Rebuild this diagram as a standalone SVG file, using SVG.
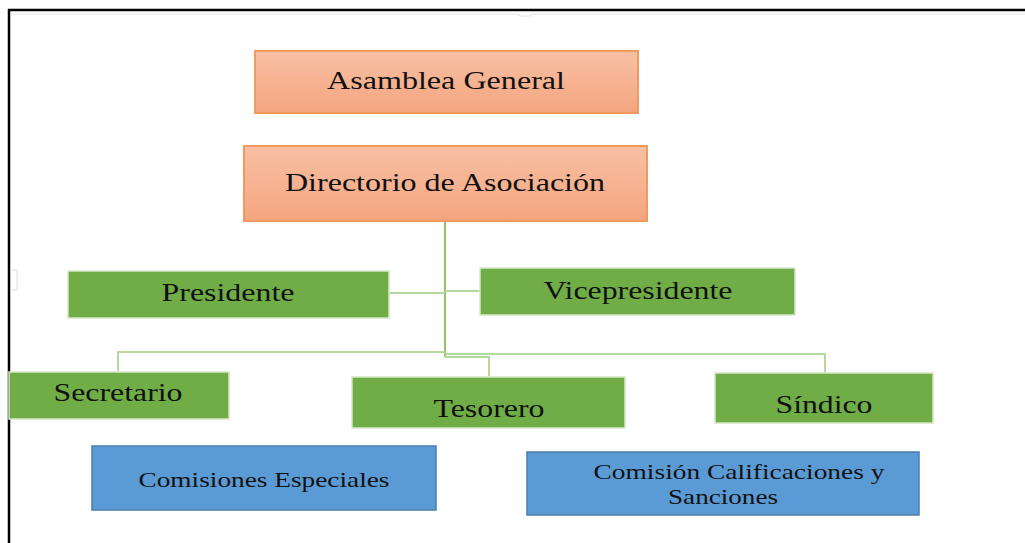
<svg xmlns="http://www.w3.org/2000/svg" width="1025" height="543" viewBox="0 0 1025 543">
<defs>
<linearGradient id="og" x1="0" y1="0" x2="0" y2="1">
<stop offset="0" stop-color="#f8c0a4"/>
<stop offset="1" stop-color="#f4a57f"/>
</linearGradient>
<style>
.org{fill:url(#og);stroke:#f19a60;stroke-width:2}
.grn{fill:#70ad47;stroke:#d6e8c9;stroke-width:1.5}
.blu{fill:#5b9bd5;stroke:#4a7fae;stroke-width:1.5}
.t{font-family:"Liberation Serif","Times New Roman",serif;fill:#111;text-anchor:middle}
.big{font-size:26px}
.sm{font-size:21px}
.ln{fill:none;stroke:#8fc46c;stroke-width:2}
.ln2{fill:none;stroke:#b5d99c;stroke-width:2}
</style>
</defs>
<rect width="1025" height="543" fill="#ffffff"/>
<g id="frame">
<path d="M8 10 H1025" stroke="#000" stroke-width="2.5" fill="none"/>
<path d="M9 9 V543" stroke="#000" stroke-width="2.5" fill="none"/>
<path d="M11 18 V14 H519 V16 H531 V14 H1025" stroke="#e2e2e2" stroke-width="1" fill="none"/>
<path d="M10 270 H17 V290 H10" stroke="#dddddd" stroke-width="1" fill="none"/>
</g>
<g id="connectors">
<path class="ln" d="M445 221 V357"/>
<path class="ln2" d="M389 293 H445"/>
<path class="ln2" d="M445 291 H480"/>
<path class="ln2" d="M118 371 V352 H445"/>
<path class="ln2" d="M445 357 H489 V376"/>
<path class="ln2" d="M445 354 H825 V373"/>
</g>
<g id="asamblea">
<rect class="org" x="255" y="51" width="383" height="62"/>
<text class="t big" x="446" y="89" textLength="238" lengthAdjust="spacingAndGlyphs">Asamblea General</text>
</g>
<g id="directorio">
<rect class="org" x="244" y="146" width="403" height="75"/>
<text class="t big" x="445" y="191" textLength="320" lengthAdjust="spacingAndGlyphs">Directorio de Asociación</text>
</g>
<g id="presidente">
<rect class="grn" x="68" y="271" width="321" height="47"/>
<text class="t big" x="228" y="301" textLength="133" lengthAdjust="spacingAndGlyphs">Presidente</text>
</g>
<g id="vicepresidente">
<rect class="grn" x="480" y="268" width="315" height="47"/>
<text class="t big" x="638" y="299" textLength="189" lengthAdjust="spacingAndGlyphs">Vicepresidente</text>
</g>
<g id="secretario">
<rect class="grn" x="9" y="372" width="220" height="47"/>
<text class="t big" x="118" y="401" textLength="129" lengthAdjust="spacingAndGlyphs">Secretario</text>
</g>
<g id="tesorero">
<rect class="grn" x="352" y="377" width="273" height="51"/>
<text class="t big" x="489" y="417" textLength="111" lengthAdjust="spacingAndGlyphs">Tesorero</text>
</g>
<g id="sindico">
<rect class="grn" x="715" y="373" width="218" height="50"/>
<text class="t big" x="824" y="413" textLength="97" lengthAdjust="spacingAndGlyphs">Síndico</text>
</g>
<g id="comisiones-especiales">
<rect class="blu" x="92" y="446" width="344" height="64"/>
<text class="t sm" x="264" y="487" textLength="251" lengthAdjust="spacingAndGlyphs">Comisiones Especiales</text>
</g>
<g id="comision-calificaciones">
<rect class="blu" x="527" y="452" width="392" height="63"/>
<text class="t sm" x="739" y="479" textLength="291" lengthAdjust="spacingAndGlyphs">Comisión Calificaciones y</text>
<text class="t sm" x="723" y="504" textLength="110" lengthAdjust="spacingAndGlyphs">Sanciones</text>
</g>
</svg>
